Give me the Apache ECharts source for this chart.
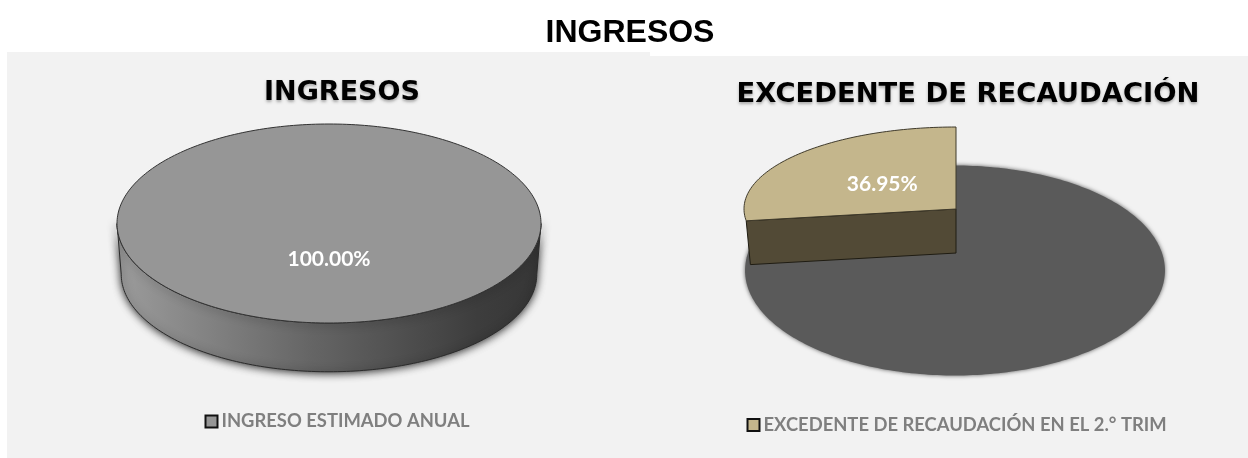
<!DOCTYPE html>
<html>
<head>
<meta charset="utf-8">
<title>INGRESOS</title>
<script src="https://cdn.jsdelivr.net/npm/echarts@6/dist/echarts.min.js"></script>
<style>
  html, body { margin: 0; padding: 0; background: #fff; }
  #chart { width: 1248px; height: 458px; }
</style>
</head>
<body>
<div id="chart"></div>
<script>
// Values. Shares are what the slices cover as drawn (%).
const mainTitle = "INGRESOS";
const chartTitles = ["INGRESOS", "EXCEDENTE DE RECAUDACIÓN"];
const legendNames = ["INGRESO ESTIMADO ANUAL", "EXCEDENTE DE RECAUDACIÓN EN EL 2.° TRIM"];
const ingresoShare = [100];
const ingresoLabels = ["100.00%"];
const discoShare = [100];
const excedenteShare = [27.3];
const excedenteLabels = ["36.95%"];

const PANEL = "#f2f2f2";
const GREY_TOP = "#969696";
const GREY_DISC = "#5a5a5a";
const TAN_TOP = "#c4b68c";
const TAN_WALL = "#524a36";
const EDGE = "#333333";
const LEGEND_TEXT = "#7f7f7f";

const hiddenAxis = (type, gridIndex) => ({
  type, gridIndex, min: -1, max: 1, show: false,
});

// Point on a tilted ellipse; share runs clockwise from 12 o'clock.
function rim(api, share, depth, scale) {
  const t = (share / 100) * Math.PI * 2;
  return api.coord([Math.sin(t) * scale, Math.cos(t) * scale - depth]);
}

function arc(api, from, to, depth, scale) {
  const pts = [];
  const steps = Math.max(2, Math.ceil(Math.abs(to - from) * 3));
  for (let i = 0; i <= steps; i++) {
    pts.push(rim(api, from + ((to - from) * i) / steps, depth, scale));
  }
  return pts;
}

function labelText(text, at) {
  return {
    type: "text",
    x: at[0],
    y: at[1],
    style: {
      text,
      fill: "#fff",
      font: "bold 21px Lato",
      align: "center",
      verticalAlign: "middle",
    },
  };
}

// Whole 3D disc: side wall first, top face over it.
function renderDisc(labels, depth, baseScale) {
  return function (params, api) {
    const share = api.value(0);
    const wall = arc(api, 25, 75, 0, 1).concat(arc(api, 75, 25, depth, baseScale));
    const top = arc(api, 0, share, 0, 1);
    return {
      type: "group",
      children: [
        {
          type: "polygon",
          shape: { points: wall },
          style: {
            fill: {
              type: "linear", x: 0, y: 0, x2: 1, y2: 0,
              colorStops: [
                { offset: 0, color: "#9c9c9c" },
                { offset: 0.45, color: "#666666" },
                { offset: 0.85, color: "#3d3d3d" },
                { offset: 1, color: "#363636" },
              ],
            },
            stroke: "#2b2b2b",
            lineWidth: 1,
            shadowBlur: 9,
            shadowColor: "rgba(0,0,0,0.85)",
            shadowOffsetY: 1,
          },
        },
        {
          type: "polygon",
          shape: { points: top },
          style: { fill: GREY_TOP, stroke: EDGE, lineWidth: 1 },
        },
        labelText(labels[params.dataIndex], rim(api, 50, 0, 0.36)),
      ],
    };
  };
}

// Flat blurred disc lying under the pulled-out slice.
function renderFlat(params, api) {
  return {
    type: "polygon",
    shape: { points: arc(api, 0, api.value(0), 0, 0.995) },
    style: {
      fill: GREY_DISC,
      shadowBlur: 4,
      shadowColor: GREY_DISC,
    },
  };
}

// Pulled-out slice from 12 o'clock going anticlockwise, with its front wall.
function renderSlice(labels, depth, baseScale) {
  return function (params, api) {
    const end = 100 - api.value(0);
    const apex = api.coord([0, 0]);
    const apexLow = api.coord([0, -depth]);
    const edge = rim(api, end, 0, 1);
    const edgeLow = rim(api, end, depth, baseScale);
    return {
      type: "group",
      children: [
        {
          type: "polygon",
          shape: { points: [apex, edge, edgeLow, apexLow] },
          style: { fill: TAN_WALL, stroke: "#1f1c12", lineWidth: 1 },
        },
        {
          type: "polygon",
          shape: { points: [apex].concat(arc(api, end, 100, 0, 1)) },
          style: { fill: TAN_TOP, stroke: "#3f3a2b", lineWidth: 1 },
        },
        labelText(labels[params.dataIndex], rim(api, (end + 100) / 2, 0, 0.46)),
      ],
    };
  };
}

const chartTitleStyle = (size) => ({
  color: "#000",
  fontFamily: "DejaVu Sans",
  fontWeight: "bold",
  fontSize: size,
  textShadowColor: "rgba(0,0,0,0.3)",
  textShadowBlur: 3,
  textShadowOffsetY: 2,
});

const legendBase = {
  orient: "horizontal",
  padding: 0,
  itemWidth: 12,
  itemHeight: 12,
  selectedMode: false,
  textStyle: {
    color: LEGEND_TEXT,
    fontFamily: "Lato",
    fontWeight: "bold",
    fontSize: 18.4,
    padding: [1, 0, 0, -1],
  },
};

const legendItem = (name, color) => ({
  name,
  icon: "rect",
  itemStyle: { color, borderColor: "#111", borderWidth: 2 },
});

const chart = echarts.init(document.getElementById("chart"), null, { renderer: "canvas" });
chart.setOption({
  animation: false,
  tooltip: { show: false },
  graphic: [
    { type: "rect", z: -10, silent: true, shape: { x: 7, y: 52, width: 643, height: 406 }, style: { fill: PANEL } },
    { type: "rect", z: -10, silent: true, shape: { x: 650, y: 56, width: 598, height: 402 }, style: { fill: PANEL } },
  ],
  title: [
    {
      text: mainTitle, left: 625, top: 12, textAlign: "center",
      textStyle: { color: "#000", fontFamily: "Liberation Sans", fontWeight: "bold", fontSize: 32 },
    },
    { text: chartTitles[0], left: 337, top: 74, textAlign: "center", textStyle: chartTitleStyle(27) },
    { text: chartTitles[1], left: 963, top: 76, textAlign: "center", textStyle: chartTitleStyle(27.4) },
  ],
  legend: [
    Object.assign({}, legendBase, { left: 204.5, top: 412.5, data: [legendItem(legendNames[0], GREY_TOP)] }),
    Object.assign({}, legendBase, { left: 746.5, top: 416, data: [legendItem(legendNames[1], TAN_TOP)] }),
  ],
  // each grid is the bounding box of one pie's top ellipse
  grid: [
    { left: 117, top: 124, width: 424, height: 199 },
    { left: 744, top: 165, width: 422, height: 211 },
    { left: 744, top: 127, width: 424, height: 164 },
  ],
  xAxis: [hiddenAxis("value", 0), hiddenAxis("value", 1), hiddenAxis("value", 2)],
  yAxis: [hiddenAxis("value", 0), hiddenAxis("value", 1), hiddenAxis("value", 2)],
  series: [
    {
      name: legendNames[0],
      type: "custom",
      xAxisIndex: 0,
      yAxisIndex: 0,
      clip: false,
      silent: true,
      data: ingresoShare.map((v) => [v]),
      encode: { x: -1, y: -1 },
      renderItem: renderDisc(ingresoLabels, 0.51, 0.98),
    },
    {
      name: "disco",
      type: "custom",
      xAxisIndex: 1,
      yAxisIndex: 1,
      clip: false,
      silent: true,
      data: discoShare.map((v) => [v]),
      encode: { x: -1, y: -1 },
      renderItem: renderFlat,
    },
    {
      name: legendNames[1],
      type: "custom",
      xAxisIndex: 2,
      yAxisIndex: 2,
      clip: false,
      silent: true,
      z: 3,
      data: excedenteShare.map((v) => [v]),
      encode: { x: -1, y: -1 },
      renderItem: renderSlice(excedenteLabels, 0.537, 0.98),
    },
  ],
});
</script>
</body>
</html>
